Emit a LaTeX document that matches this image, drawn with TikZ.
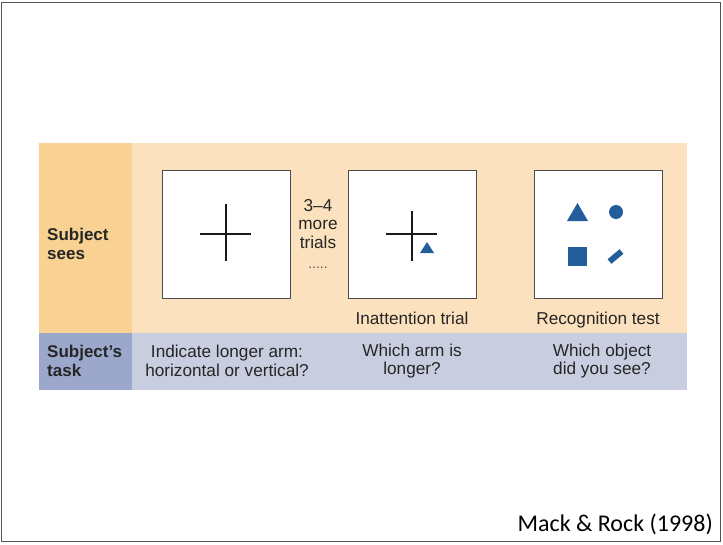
\documentclass[tikz,border=0pt]{standalone}
\usepackage{fontspec}
\setmainfont{Liberation Sans}
\newfontfamily\calib{Carlito}
\definecolor{seesLab}{HTML}{F9D293}
\definecolor{seesBg}{HTML}{FBE1BD}
\definecolor{taskLab}{HTML}{9BA8CB}
\definecolor{taskBg}{HTML}{C9CDE0}
\definecolor{shapeBlue}{HTML}{235E9A}
\definecolor{frameGray}{HTML}{555555}
\begin{document}
\begin{tikzpicture}[x=1pt,y=-1pt,
  txt/.style={font=\fontsize{17.2}{18.5}\selectfont, text=black!85, align=center, inner sep=0pt},
  lab/.style={font=\fontsize{17}{18.5}\selectfont\bfseries, text=black!85, align=left, inner sep=0pt, anchor=west},
  stim/.style={draw=black!70, line width=0.9pt, fill=white, minimum width=128pt, minimum height=128pt, inner sep=0pt},
  arm/.style={line width=1.6pt, draw=black!90},
  blue/.style={fill=shapeBlue, draw=none}]
\useasboundingbox (0,0) rectangle (723,544);
\fill[white] (0,0) rectangle (723,544);
\draw[frameGray, line width=1.5pt] (1.5,2.5) rectangle (720.5,541.5);
% panel backgrounds
\fill[seesBg] (39,143) rectangle (687,333);
\fill[seesLab] (39,143) rectangle (132,333);
\fill[taskBg] (39,333) rectangle (687,390);
\fill[taskLab] (39,333) rectangle (132,390);
% row labels
\node[lab] (sees) at (47,244) {Subject\\sees};
\node[lab] (task) at (47,361) {Subject’s\\task};
% stimulus boxes
\node[stim] (b1) at (226,234) {};
\node[stim] (b2) at (412,234) {};
\node[stim] (b3) at (598,234) {};
% cross 1
\draw[arm] (200,234) -- (251,234);
\draw[arm] (226,204) -- (226,261);
% cross 2
\draw[arm] (386,234) -- (437,234);
\draw[arm] (412,211) -- (412,261);
\fill[blue] (420,253) -- (434,253) -- (427,242) -- cycle;
% recognition shapes
\fill[blue] (567,221) -- (588,221) -- (577.5,203) -- cycle;
\fill[blue] (616,212) circle (7);
\fill[blue] (568,247) rectangle (587,266);
\draw[shapeBlue, line width=6pt] (609.5,261.5) -- (621.5,251.5);
% texts
\node[txt] (more) at (318,224) {3–4\\more\\trials};
\node[txt, font=\fontsize{14}{14}\selectfont, text=black!65, anchor=base] (dots) at (318,268) {.....};
\node[txt, anchor=base] (inatt) at (412,324) {Inattention trial};
\node[txt, anchor=base] (recog) at (598,324) {Recognition test};
\node[txt] (t1) at (227,361) {Indicate longer arm:\\horizontal or vertical?};
\node[txt] (t2) at (412,361) {Which arm is\\longer?};
\node[txt] (t3) at (602,361) {Which object\\did you see?};
\node[font=\calib\fontsize{24}{26}\selectfont, anchor=east, inner sep=0pt] (cite) at (713,524) {Mack \& Rock (1998)};
\end{tikzpicture}
\end{document}
